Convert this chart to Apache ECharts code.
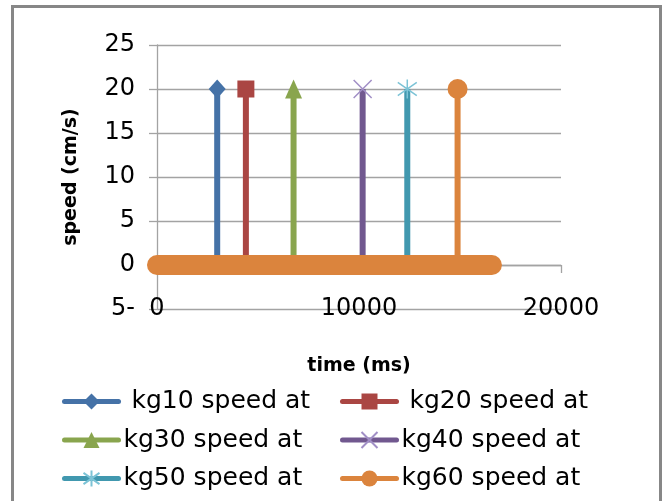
<!DOCTYPE html>
<html>
<head>
<meta charset="utf-8">
<script src="https://cdn.jsdelivr.net/npm/echarts@6/dist/echarts.min.js"></script>
<style>
  html, body { margin: 0; padding: 0; background: #fff; }
  #chart { width: 662px; height: 501px; }
</style>
</head>
<body>
<div id="chart"></div>
<script>
// legend names (row 1 has a leading space in the original)
const seriesNames = [' kg10 speed at', ' kg20 speed at', 'kg30 speed at', 'kg40 speed at', 'kg50 speed at', 'kg60 speed at']
// time (ms) of the jump for each run, and the speed reached (cm/s)
const spikeTimes = [2980, 4400, 6760, 10180, 12390, 14880]
const spikeSpeeds = [20, 20, 20, 20, 20, 20]
// first / last sample of each run, speed 0 there
const startTimes = [0, 0, 0, 0, 0, 0]
const endTimes = [16580, 16580, 16580, 16580, 16580, 16580]
const yTicks = [-5, 0, 5, 10, 15, 20, 25]
const xTicks = [0, 10000, 20000]

const lineColors = ['#4572A7', '#AA4643', '#89A54E', '#71588F', '#4198AF', '#DB843D']
const markColors = ['#4572A7', '#AA4643', '#89A54E', '#A18FC6', '#7CC3D6', '#DB843D']
const markers = [
  'diamond',
  'rect',
  'triangle',
  'path://M0,0L20,20M20,0L0,20',
  'path://M10,0L10,20M2,3L18,17M18,3L2,17',
  'circle'
]
const markSizes = [[17, 19], 17, [17, 19], 18, 19, 20]

const gridColor = '#A3A3A3'
const tickFont = 'DejaVu Sans'

const series = seriesNames.map((name, i) => {
  const t = spikeTimes[i]
  const thin = markers[i].indexOf('path://') === 0
  return {
    name: name,
    type: 'line',
    clip: false,
    symbol: markers[i],
    symbolSize: markSizes[i],
    showSymbol: true,
    lineStyle: { color: lineColors[i], width: 6 },
    itemStyle: {
      color: markColors[i],
      borderColor: markColors[i],
      borderWidth: thin ? 1.5 : 0
    },
    emphasis: { disabled: true },
    data: [
      { value: [startTimes[i], 0], symbol: 'none' },
      { value: [t, 0], symbol: 'none' },
      { value: [t, spikeSpeeds[i]] },
      { value: [t, 0], symbol: 'none' },
      { value: [endTimes[i], 0], symbol: 'none' }
    ]
  }
})

// the kg60 zero samples sit so close together their markers merge into one thick band
series.push({
  name: 'kg60 zero samples',
  type: 'line',
  clip: false,
  z: 3,
  symbol: 'none',
  lineStyle: { color: lineColors[5], width: 20, cap: 'round' },
  emphasis: { disabled: true },
  data: [[startTimes[5], 0], [endTimes[5], 0]]
})

const legendBase = {
  orient: 'vertical',
  top: 389,
  padding: 0,
  itemWidth: 54,
  itemHeight: 20,
  itemGap: 13.5,
  selectedMode: false,
  lineStyle: { width: 5, cap: 'round' },
  textStyle: { fontFamily: tickFont, fontSize: 25, color: '#000', lineHeight: 25 }
}

const option = {
  animation: false,
  backgroundColor: '#fff',
  grid: { left: 157, right: 101, top: 45, bottom: 192 },
  legend: [
    Object.assign({}, legendBase, { left: 62, data: [seriesNames[0], seriesNames[2], seriesNames[4]] }),
    Object.assign({}, legendBase, { left: 340, data: [seriesNames[1], seriesNames[3], seriesNames[5]] })
  ],
  xAxis: [
    {
      type: 'value',
      min: xTicks[0],
      max: xTicks[xTicks.length - 1],
      interval: xTicks[1] - xTicks[0],
      position: 'bottom',
      axisLine: { show: false, onZero: false },
      axisTick: { show: false },
      splitLine: { show: false },
      axisLabel: {
        fontFamily: tickFont, fontSize: 24, color: '#000',
        verticalAlign: 'middle', margin: 0,
        formatter: v => String(v)
      },
      name: 'time (ms)',
      nameLocation: 'middle',
      nameGap: 48,
      nameTextStyle: { fontFamily: tickFont, fontWeight: 'bold', fontSize: 19, color: '#000' }
    },
    {
      type: 'value',
      min: xTicks[0],
      max: xTicks[xTicks.length - 1],
      interval: xTicks[1] - xTicks[0],
      position: 'bottom',
      axisLine: { show: true, onZero: true, lineStyle: { color: gridColor, width: 1.3 } },
      axisTick: { show: true, length: 8, lineStyle: { color: gridColor, width: 1.3 } },
      axisLabel: { show: false },
      splitLine: { show: false }
    }
  ],
  yAxis: {
    type: 'value',
    min: yTicks[0],
    max: yTicks[yTicks.length - 1],
    interval: yTicks[1] - yTicks[0],
    axisLine: { show: true, onZero: false, lineStyle: { color: gridColor, width: 1.3 } },
    axisTick: { show: true, length: 8, lineStyle: { color: gridColor, width: 1.3 } },
    splitLine: { show: true, lineStyle: { color: gridColor, width: 1.3 } },
    axisLabel: {
      fontFamily: tickFont, fontSize: 24, color: '#000', margin: 22,
      formatter: v => (v < 0 ? (-v) + '-' : String(v))
    },
    name: 'speed (cm/s)',
    nameLocation: 'middle',
    nameRotate: 90,
    nameGap: 76,
    nameTextStyle: { fontFamily: tickFont, fontWeight: 'bold', fontSize: 19, color: '#000' }
  },
  graphic: [{
    type: 'rect',
    silent: true,
    shape: { x: 12.5, y: 6.5, width: 648, height: 520 },
    style: { fill: 'none', stroke: '#878787', lineWidth: 3 }
  }],
  series: series
}

const myChart = echarts.init(document.getElementById('chart'))
myChart.setOption(option)
</script>
</body>
</html>
